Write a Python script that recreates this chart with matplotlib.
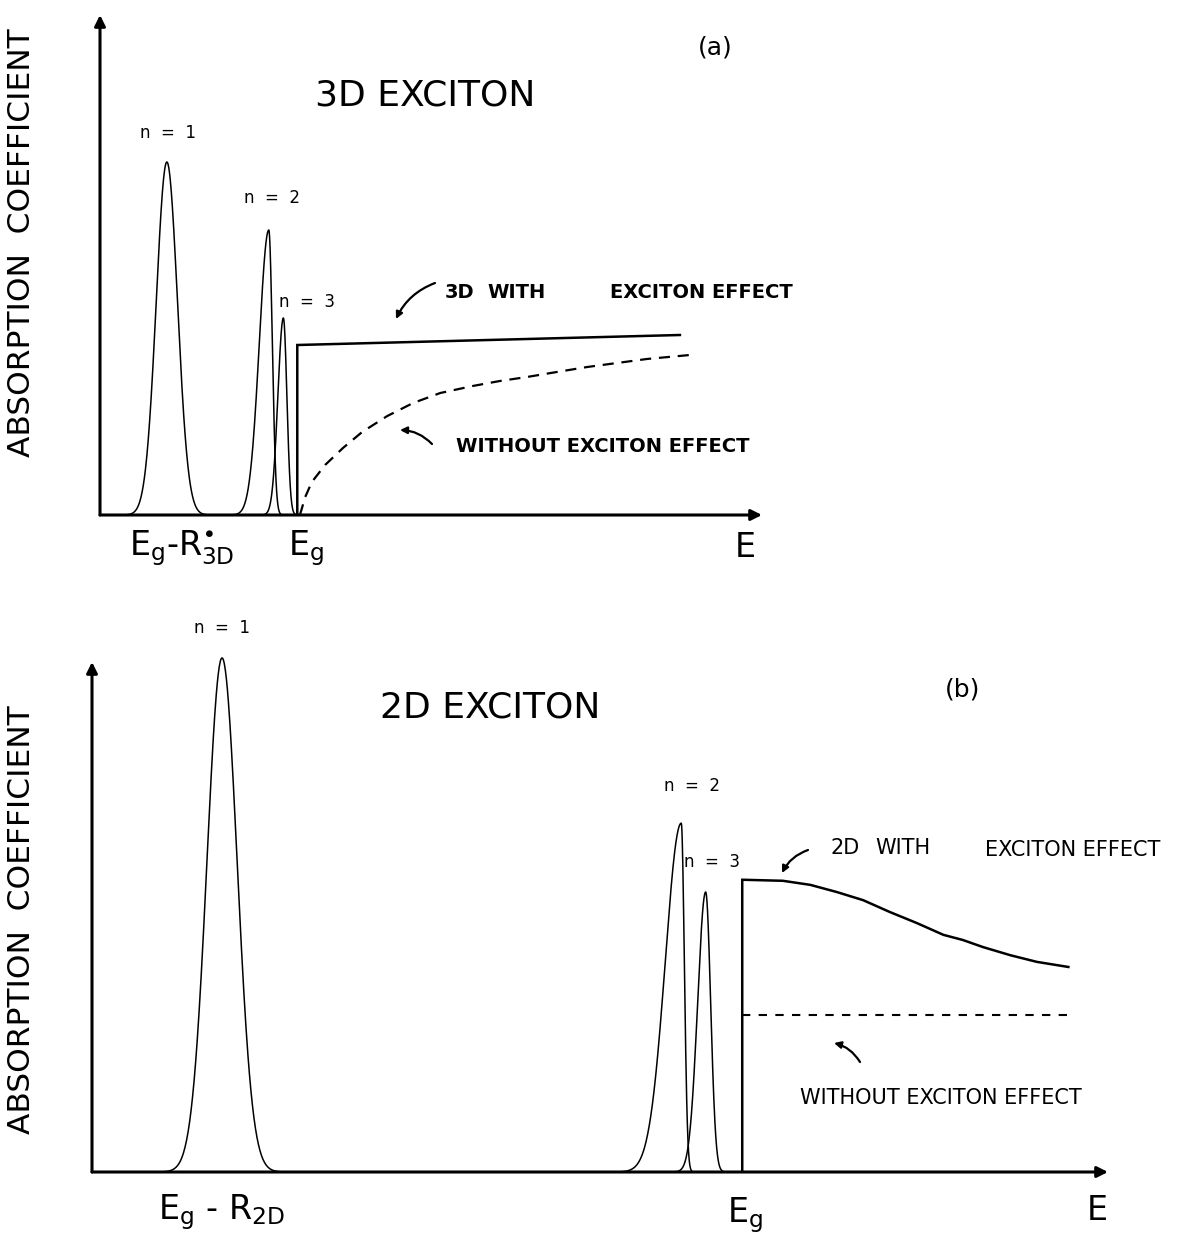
import numpy as np
import matplotlib.pyplot as plt
from matplotlib.patches import FancyArrowPatch

W, H = 1187, 1236
plt.rcParams['font.family'] = ['DejaVu Sans']
plt.rcParams['mathtext.fontset'] = 'dejavusans'

# ---- panel (a): 3D exciton (arbitrary units, 0-100 on both axes)
peaks_3d_pos = [10.1, 25.5, 27.7]
peaks_3d_height = [70.6, 57.0, 39.4]
peaks_3d_sig_left = [1.6, 1.43, 0.83]
peaks_3d_sig_right = [1.6, 0.53, 0.53]
peaks_3d_labels = ["n  =  1", "n  =  2", "n  =  3"]
edge_3d = 29.8
cont_3d_x = [29.8, 87.6]
cont_3d_y = [34.0, 36.0]
free_3d_x = [30.2, 31.0, 32.0, 34.0, 36.7, 39.6, 43.4, 47.3, 51.4, 56.3,
             60.4, 64.5, 69.0, 73.6, 78.1, 82.6, 89.1]
free_3d_y = [0.0, 3.6, 6.6, 10.0, 13.4, 16.6, 19.8, 22.4, 24.4, 25.8,
             26.8, 27.6, 28.6, 29.6, 30.4, 31.2, 32.0]

# ---- panel (b): 2D exciton
peaks_2d_pos = [12.8, 58.0, 60.4]
peaks_2d_height = [100.8, 68.4, 54.9]
peaks_2d_sig_left = [1.48, 1.57, 0.79]
peaks_2d_sig_right = [1.48, 0.30, 0.49]
peaks_2d_labels = ["n  =  1", "n  =  2", "n  =  3"]
edge_2d = 64.0
cont_2d_x = [64.1, 68.0, 70.7, 73.3, 75.9, 78.5, 81.2, 83.8, 85.7, 87.7,
             90.4, 93.0, 96.1]
cont_2d_y = [57.3, 57.1, 56.3, 54.9, 53.3, 51.0, 48.8, 46.5, 45.5, 44.1,
             42.5, 41.2, 40.2]
free_2d_x = [64.0, 96.5]
free_2d_y = [30.8, 30.8]


def fx(px):
    return px / W


def fy(py):
    return 1 - py / H


def peak(ax, x0, h, sl, sr):
    x = np.linspace(x0 - 5 * sl, x0 + 5 * sr, 300)
    s = np.where(x < x0, sl, sr)
    y = h * np.exp(-0.5 * ((x - x0) / s) ** 2)
    ax.plot(x, y, color='k', lw=1.1, clip_on=False)


def draw_axes(ax):
    ax.set_xlim(0, 100)
    ax.set_ylim(0, 100)
    ax.axis('off')
    ap = dict(arrowstyle='-|>', lw=2.2, color='k', mutation_scale=16,
              shrinkA=0, shrinkB=0)
    ax.annotate('', xy=(1, 0), xytext=(0, 0), xycoords='axes fraction',
                arrowprops=ap)
    ax.annotate('', xy=(0, 1), xytext=(0, 0), xycoords='axes fraction',
                arrowprops=ap)


fig = plt.figure(figsize=(W / 100, H / 100), dpi=100)

# ---------------- (a)
ax1 = fig.add_axes([fx(100), fy(515), 662 / W, 500 / H])
draw_axes(ax1)
for x0, h, sl, sr in zip(peaks_3d_pos, peaks_3d_height, peaks_3d_sig_left, peaks_3d_sig_right):
    peak(ax1, x0, h, sl, sr)
ax1.plot([edge_3d, edge_3d] + cont_3d_x, [0, cont_3d_y[0]] + cont_3d_y,
         color='k', lw=1.8, solid_joinstyle='miter')
ax1.plot(free_3d_x, free_3d_y, color='k', lw=1.6, dashes=(5, 3.5))

# ---------------- (b)
ax2 = fig.add_axes([fx(92), fy(1172), 1016 / W, 510 / H])
draw_axes(ax2)
for x0, h, sl, sr in zip(peaks_2d_pos, peaks_2d_height, peaks_2d_sig_left, peaks_2d_sig_right):
    peak(ax2, x0, h, sl, sr)
ax2.plot([edge_2d, edge_2d] + cont_2d_x, [0, cont_2d_y[0]] + cont_2d_y,
         color='k', lw=1.8, solid_joinstyle='miter')
ax2.plot(free_2d_x, free_2d_y, color='k', lw=1.5, dashes=(4, 4))

# ---------------- text
ylab = dict(rotation=90, ha='center', va='center', fontsize=22.5)
fig.text(fx(22), fy(243), "ABSORPTION  COEFFICIENT", **ylab)
fig.text(fx(22), fy(920), "ABSORPTION  COEFFICIENT", **ylab)

fig.text(fx(425), fy(95), "3D EXCITON", ha='center', va='center', fontsize=26)
fig.text(fx(490), fy(708), "2D EXCITON", ha='center', va='center', fontsize=26)
fig.text(fx(715), fy(48), "(a)", ha='center', va='center', fontsize=18)
fig.text(fx(963), fy(690), "(b)", ha='center', va='center', fontsize=18)

for lab, (px, py) in zip(peaks_3d_labels, [(168, 133), (272, 198), (307, 302)]):
    fig.text(fx(px), fy(py), lab, ha='center', va='center', fontsize=12)
for lab, (px, py) in zip(peaks_2d_labels, [(222, 628), (692, 786), (712, 862)]):
    fig.text(fx(px), fy(py), lab, ha='center', va='center', fontsize=12)

# curve annotations
top = dict(ha='left', va='center', fontsize=14, fontweight='bold')
fig.text(fx(445), fy(292), "3D", **top)
fig.text(fx(487), fy(292), "WITH", **top)
fig.text(fx(610), fy(292), "EXCITON EFFECT", **top)
fig.text(fx(456), fy(447), "WITHOUT EXCITON EFFECT", **top)
bot = dict(ha='left', va='center', fontsize=15)
fig.text(fx(830), fy(848), "2D", **bot)
fig.text(fx(875), fy(848), "WITH", **bot)
fig.text(fx(985), fy(850), "EXCITON EFFECT", **bot)
fig.text(fx(800), fy(1098), "WITHOUT EXCITON EFFECT", **bot)

# tick-like labels under the energy axes
tl = dict(ha='center', va='center', fontsize=24)
fig.text(fx(182), fy(548), r'E$_\mathregular{g}$-R$^{\bullet}_\mathregular{3D}$', **tl)
fig.text(fx(306), fy(548), r'E$_\mathregular{g}$', **tl)
fig.text(fx(745), fy(548), "E", **tl)
fig.text(fx(222), fy(1212), r'E$_\mathregular{g}$ - R$_\mathregular{2D}$', **tl)
fig.text(fx(745), fy(1215), r'E$_\mathregular{g}$', **tl)
fig.text(fx(1097), fy(1210), "E", **tl)

# small pointer arrows
arr = dict(arrowstyle='-|>', lw=1.6, color='k', mutation_scale=10,
           shrinkA=0, shrinkB=0, connectionstyle='arc3,rad=0.2')
for tail, head in [((435, 283), (396, 319)), ((432, 444), (400, 430)),
                   ((808, 850), (782, 873)), ((860, 1062), (834, 1043))]:
    fig.add_artist(FancyArrowPatch((fx(tail[0]), fy(tail[1])), (fx(head[0]), fy(head[1])),
                                   transform=fig.transFigure, **arr))

fig.savefig("out.png", dpi=100)
